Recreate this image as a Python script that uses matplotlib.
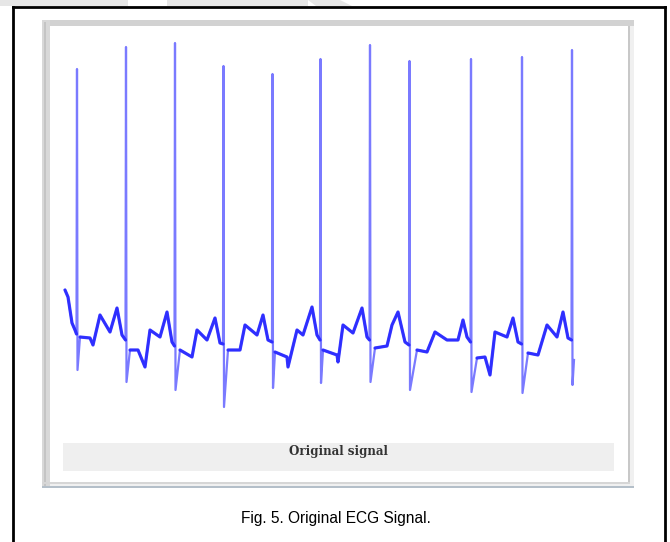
import numpy as np
import matplotlib
matplotlib.use('Agg')
import matplotlib.pyplot as plt
from matplotlib.patches import Rectangle, Polygon
from matplotlib.lines import Line2D

# slow part of the ECG (sample index, amplitude in mV)
wave_t = [0, 12, 28, 40,
          60, 100, 112, 140, 180, 208, 228,
          260, 292, 320, 340, 380, 408, 428,
          460, 508, 528, 568, 600, 620,
          652, 700, 720, 768, 792, 812,
          840, 888, 892, 928, 952, 988, 1008,
          1032, 1088, 1092, 1112, 1152, 1188, 1208,
          1240, 1288, 1308, 1332, 1360,
          1408, 1448, 1480, 1528, 1572, 1592, 1608,
          1648, 1680, 1700, 1720, 1768, 1792, 1812,
          1852, 1892, 1928, 1968, 1992, 2012,
          2036]
wave_v = [0.50, 0.43, 0.17, 0.10,
          0.03, 0.02, -0.05, 0.25, 0.08, 0.32, 0.05,
          -0.10, -0.10, -0.27, 0.10, 0.03, 0.28, -0.02,
          -0.10, -0.17, 0.10, 0.00, 0.22, -0.03,
          -0.10, -0.10, 0.15, 0.05, 0.25, 0.00,
          -0.12, -0.17, -0.27, 0.10, 0.05, 0.33, 0.05,
          -0.10, -0.15, -0.22, 0.15, 0.07, 0.32, 0.03,
          -0.08, -0.06, 0.15, 0.28, -0.02,
          -0.10, -0.12, 0.08, 0.00, 0.00, 0.20, 0.03,
          -0.18, -0.17, -0.35, 0.08, 0.03, 0.22, -0.02,
          -0.13, -0.15, 0.15, 0.03, 0.28, 0.02,
          -0.20]

# QRS spikes: onset level, R peak, S trough
spike_t = [48, 244, 440, 634, 830, 1022, 1220, 1378, 1624, 1828, 2028]
spike_onset = [0.06, 0.00, -0.06, -0.04, -0.02, 0.00, 0.00, -0.05, -0.02, -0.04, 0.00]
spike_top = [2.71, 2.93, 2.97, 2.74, 2.66, 2.81, 2.95, 2.79, 2.81, 2.83, 2.90]
spike_bottom = [-0.30, -0.42, -0.50, -0.67, -0.48, -0.43, -0.42, -0.50, -0.52, -0.53, -0.45]

panel_title = 'Original signal'
caption = 'Fig. 5. Original ECG Signal.'

W, H = 670, 542
fig = plt.figure(figsize=(W / 100, H / 100), dpi=100)


def px_rect(x0, y0, x1, y1, color, z=0):
    r = Rectangle((x0 / W, 1 - y1 / H), (x1 - x0) / W, (y1 - y0) / H,
                  transform=fig.transFigure, facecolor=color, edgecolor='none', zorder=z)
    fig.patches.append(r)


# faint watermark strip at the very top
px_rect(0, 0, 128, 6, '#e6e6e6')
px_rect(167, 0, 308, 6, '#e6e6e6')
fig.patches.append(Polygon([(308 / W, 1), (340 / W, 1), (352 / W, 1 - 6 / H), (316 / W, 1 - 6 / H)],
                           closed=True, transform=fig.transFigure,
                           facecolor='#e6e6e6', edgecolor='none'))

# outer black box (open at the bottom)
for xs, ys in [([13, 13], [7, 542]), ([13, 665], [7, 7]), ([665, 665], [7, 542])]:
    fig.lines.append(Line2D([x / W for x in xs], [1 - y / H for y in ys],
                            transform=fig.transFigure, color='black', lw=2.0))

# window-like panel frame
px_rect(42, 20, 634, 488, '#f0f0f0')
px_rect(42, 20, 634, 26, '#d2d2d2')
px_rect(42, 20, 50, 486, '#d8d8d8')
px_rect(44, 22, 46, 486, '#c4c4c4')
px_rect(628, 26, 630, 484, '#c8c8c8')
px_rect(42, 482, 630, 484, '#d6d6d6')
px_rect(42, 486, 634, 488, '#b4bfc9')
px_rect(50, 26, 628, 482, 'white')

# title bar inside the panel
px_rect(63, 443, 614, 471, '#efefef', z=1)
fig.text(338 / W, 1 - 452 / H, panel_title, ha='center', va='center',
         family='DejaVu Serif', weight='bold', fontsize=8.6, color='#333333')

# caption
fig.text(336 / W, 1 - 519 / H, caption, ha='center', va='center',
         family='Liberation Sans', fontsize=11.2, color='black')

# signal axes over the white area
ax = fig.add_axes([50 / W, 1 - 482 / H, (628 - 50) / W, (482 - 26) / H], zorder=5)
ax.set_xlim(-60, 2252)
ax.set_ylim(-1.42, 3.14)
ax.axis('off')
ax.patch.set_alpha(0)

pts = list(zip(wave_t, wave_v))
spike_pts = set()
for s, on, top, bot in zip(spike_t, spike_onset, spike_top, spike_bottom):
    pts += [(s - 2, on), (s, top), (s + 2, bot)]
    spike_pts |= {s, s + 2}
pts.sort(key=lambda p: p[0])
t = np.array([p[0] for p in pts], dtype=float)
v = np.array([p[1] for p in pts], dtype=float)

v_slow = v.copy()
for i, tt in enumerate(t):
    if int(tt) in spike_pts:
        v_slow[i] = np.nan

ax.plot(t, v, color=(0.35, 0.35, 1.0), lw=1.6, alpha=0.8)
ax.plot(t, v_slow, color='#2626ff', lw=2.3, alpha=0.9,
        solid_joinstyle='round', solid_capstyle='round')

fig.savefig('out.png', dpi=100)
